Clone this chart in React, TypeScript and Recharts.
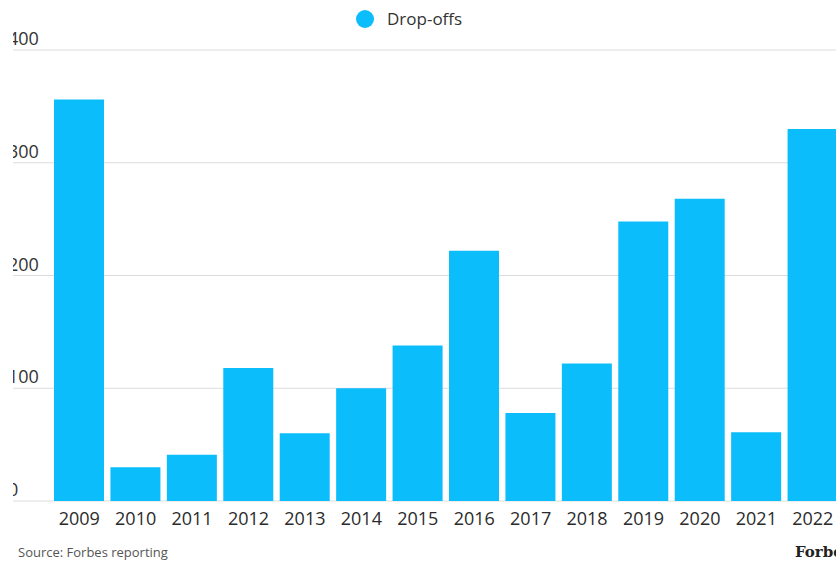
import React from 'react';
import { BarChart, Bar, XAxis, YAxis, CartesianGrid } from 'recharts';

const years = ['2009', '2010', '2011', '2012', '2013', '2014', '2015', '2016', '2017', '2018', '2019', '2020', '2021', '2022'];
const dropOffs = [356, 30, 41, 118, 60, 100, 138, 222, 78, 122, 248, 268, 61, 330];
const yTicks = [0, 100, 200, 300, 400];
const seriesName = 'Drop-offs';
const sourceText = 'Source: Forbes reporting';
const brandText = 'Forbes';

const data = years.map((y, i) => ({ year: y, value: dropOffs[i] }));

const FONT = '"Open Sans", "Noto Sans", sans-serif';
const BLUE = '#0BBEFB';

const YTick = (props: any) => {
  const { y, payload } = props;
  return (
    <text x={8} y={y - 5} fill="#333" fontSize={18} fontFamily={FONT} textAnchor="start">
      {payload.value}
    </text>
  );
};

const XTick = (props: any) => {
  const { x, y, payload } = props;
  return (
    <text x={x} y={y + 16} fill="#2b2b2b" fontSize={18} fontFamily={FONT} textAnchor="middle">
      {payload.value}
    </text>
  );
};

export default function App() {
  return (
    <div style={{ position: 'absolute', left: 0, top: 0, width: 836, height: 563, overflow: 'hidden', background: '#fff' }}>
      <div style={{ position: 'absolute', left: 13, top: 0, width: 823, height: 563, overflow: 'hidden' }}>
        <div style={{ position: 'absolute', left: -13, top: 0 }}>
          <BarChart width={900} height={563} data={data} margin={{ top: 50, right: 59, bottom: 32, left: 0 }}>
            <CartesianGrid horizontal vertical={false} stroke="#dcdcdc" />
            <YAxis
              width={13}
              domain={[0, 400]}
              ticks={yTicks}
              axisLine={false}
              tickLine={false}
              tick={<YTick />}
              interval={0}
            />
            <XAxis
              dataKey="year"
              height={30}
              axisLine={false}
              tickLine={false}
              padding={{ left: 38, right: 0 }}
              tick={<XTick />}
              interval={0}
            />
            <Bar dataKey="value" name={seriesName} fill={BLUE} barSize={50} isAnimationActive={false} />
          </BarChart>
        </div>
      </div>
      <div style={{ position: 'absolute', left: 356, top: 7, display: 'flex', alignItems: 'center', fontFamily: FONT, fontSize: 17, color: '#333' }}>
        <span style={{ display: 'inline-block', width: 18, height: 18, borderRadius: 9, background: BLUE, marginRight: 13 }} />
        <span>{seriesName}</span>
      </div>
      <div style={{ position: 'absolute', left: 18, top: 543, fontFamily: FONT, fontSize: 13, color: '#555' }}>{sourceText}</div>
      <div style={{ position: 'absolute', left: 795, top: 543, fontFamily: '"DejaVu Serif", "Liberation Serif", serif', fontWeight: 'bold', fontSize: 15, color: '#222', whiteSpace: 'nowrap' }}>{brandText}</div>
    </div>
  );
}
